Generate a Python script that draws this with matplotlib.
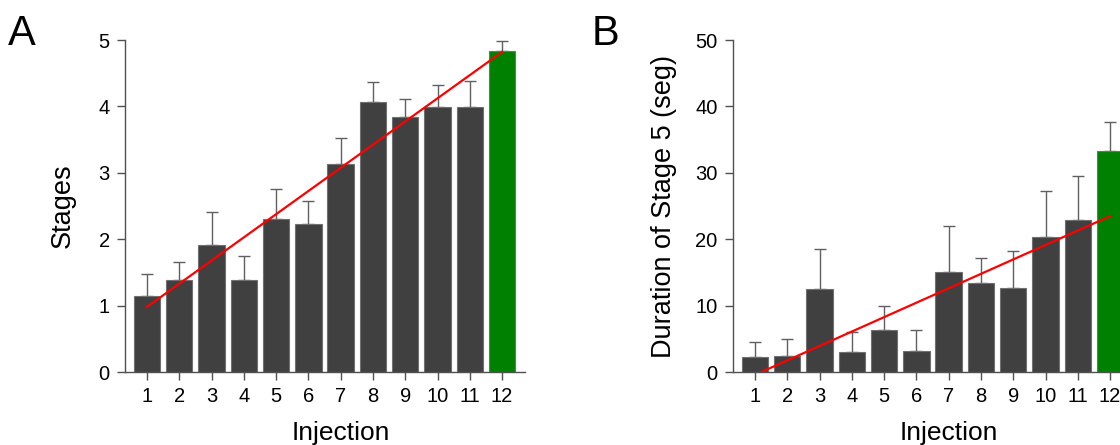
import matplotlib
matplotlib.use("Agg")
import matplotlib.pyplot as plt
import numpy as np

plt.rcParams['font.family'] = ['Liberation Sans', 'DejaVu Sans']

injections = list(range(1, 13))
tick_labels = [str(i) for i in injections]

stages_mean = [1.15, 1.38, 1.92, 1.38, 2.30, 2.23, 3.14, 4.07, 3.84, 3.99, 3.99, 4.84]
stages_err = [0.33, 0.27, 0.49, 0.37, 0.46, 0.34, 0.38, 0.29, 0.27, 0.33, 0.39, 0.14]
stages_fit_x = [1, 12]
stages_fit_y = [0.98, 4.82]

dur_mean = [2.26, 2.46, 12.49, 2.96, 6.37, 3.16, 15.10, 13.39, 12.69, 20.36, 22.82, 33.3]
dur_err = [2.30, 2.45, 5.97, 3.06, 3.56, 3.11, 6.90, 3.81, 5.57, 6.92, 6.72, 4.36]
dur_fit_x = [1, 12]
dur_fit_y = [-0.43, 23.47]

bar_colors = ['#404040'] * 11 + ['#008000']

fig = plt.figure(figsize=(11.2, 4.45), dpi=100)
W, H = 1120, 445
bottom = 1 - 372 / H
height = (372 - 40) / H
axA = fig.add_axes([125 / W, bottom, 400 / W, height])
axB = fig.add_axes([733 / W, bottom, 400 / W, height])


def draw(ax, means, errs, fx, fy, ylim, yticks, ylabel, ylab_x):
    ax.bar(injections, means, width=0.82, color=bar_colors,
           edgecolor='#707070', linewidth=0.8, zorder=2)
    ax.errorbar(injections, means, yerr=[np.zeros(len(errs)), errs], fmt='none',
                ecolor='#606060', elinewidth=1.0, capsize=4, capthick=1.0, zorder=1)
    ax.plot(fx, fy, color='#ff0000', linewidth=1.6, zorder=3)
    ax.set_xlim(0.32, 12.71)
    ax.set_ylim(*ylim)
    ax.set_yticks(yticks)
    ax.set_xticks(injections)
    ax.set_xticklabels(tick_labels)
    for s in ['top', 'right']:
        ax.spines[s].set_visible(False)
    for s in ['left', 'bottom']:
        ax.spines[s].set_color('#505050')
        ax.spines[s].set_linewidth(1.0)
    ax.tick_params(direction='out', length=6, width=1.0, color='#505050',
                   labelsize=14.5, pad=5)
    ax.set_xlabel('Injection', fontsize=19)
    ax.xaxis.set_label_coords(0.54, -0.149)
    ax.set_ylabel(ylabel, fontsize=19.5)
    ax.yaxis.set_label_coords(ylab_x, 0.5)


draw(axA, stages_mean, stages_err, stages_fit_x, stages_fit_y, (0, 5),
     [0, 1, 2, 3, 4, 5], 'Stages', -0.122)
draw(axB, dur_mean, dur_err, dur_fit_x, dur_fit_y, (0, 50),
     [0, 10, 20, 30, 40, 50], 'Duration of Stage 5 (seg)', -0.14)

fig.text(8 / W, 1 - 45 / H, 'A', fontsize=30, ha='left', va='baseline')
fig.text(592 / W, 1 - 45 / H, 'B', fontsize=30, ha='left', va='baseline')

fig.savefig('out.png', dpi=100)
